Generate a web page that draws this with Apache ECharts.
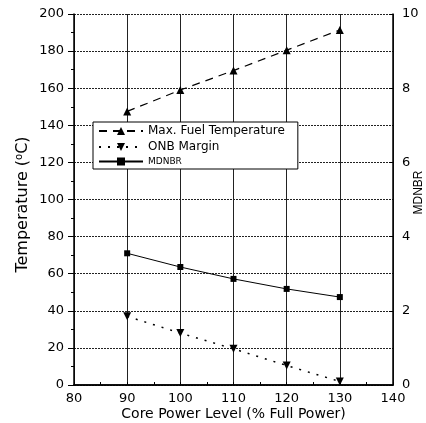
<!DOCTYPE html>
<html>
<head>
<meta charset="utf-8">
<script src="https://cdn.jsdelivr.net/npm/echarts@6/dist/echarts.min.js"></script>
<style>
  html, body { margin: 0; padding: 0; background: #fff; }
  #main { width: 426px; height: 423px; }
</style>
</head>
<body>
<div id="main"></div>
<script>
// data
var powerLevels = [90, 100, 110, 120, 130];
var fuelTemp = [147.5, 159, 169.5, 180.5, 191.4];
var onbMargin = [37, 28, 19.5, 10.5, 1.9];
var mdnbr = [3.55, 3.18, 2.86, 2.59, 2.37];

function pairs(ys) {
  return powerLevels.map(function (x, i) { return [x, ys[i]]; });
}

var font = "DejaVu Sans";
var chart = echarts.init(document.getElementById("main"));

var option = {
  backgroundColor: "#fff",
  animation: false,
  textStyle: { fontFamily: font, color: "#000" },
  grid: { left: 74, right: 33, top: 14, bottom: 38, outerBoundsMode: "none" },
  legend: {
    orient: "vertical",
    left: 93,
    top: 122,
    padding: [3, 13, 3, 5],
    itemGap: 4,
    itemWidth: 44,
    itemHeight: 10,
    backgroundColor: "#fff",
    borderColor: "#000",
    borderWidth: 1,
    textStyle: { fontFamily: font, fontSize: 12, color: "#000" },
    data: [
      { name: "Max. Fuel Temperature" },
      { name: "ONB Margin" },
      { name: "MDNBR", textStyle: { fontSize: 9 } }
    ]
  },
  xAxis: [
    {
      type: "value",
      min: 80,
      max: 140,
      interval: 10,
      name: "Core Power Level (% Full Power)",
      nameLocation: "middle",
      nameMoveOverlap: false,
      nameGap: 22,
      nameTextStyle: { fontFamily: font, fontSize: 14, color: "#000" },
      axisLine: { show: true, lineStyle: { color: "#000", width: 1.5 } },
      axisTick: { show: true, inside: true, length: 3, lineStyle: { color: "#000" } },
      minorTick: { show: true, splitNumber: 2, length: 3, lineStyle: { color: "#000" } },
      axisLabel: { fontFamily: font, fontSize: 13, color: "#000", margin: 7 },
      splitLine: { show: true, lineStyle: { color: "#222", width: 1 } }
    },
    {
      type: "value",
      position: "top",
      min: 80,
      max: 140,
      axisLine: { show: true, lineStyle: { color: "#000", width: 1.5 } },
      axisTick: { show: false },
      axisLabel: { show: false },
      splitLine: { show: false }
    }
  ],
  yAxis: [
    {
      type: "value",
      min: 0,
      max: 200,
      interval: 20,
      name: "Temperature ({sup|o}C)",
      nameLocation: "middle",
      nameMoveOverlap: false,
      nameGap: 42,
      nameTextStyle: {
        fontFamily: font,
        fontSize: 16,
        color: "#000",
        padding: [0, 10, 0, 0],
        rich: { sup: { fontFamily: font, fontSize: 10, verticalAlign: "top", padding: [0, 0, 8, 0] } }
      },
      axisLine: { show: true, lineStyle: { color: "#000", width: 1.5 } },
      axisTick: { show: true, length: 6, lineStyle: { color: "#000" } },
      minorTick: { show: true, splitNumber: 2, length: 3, lineStyle: { color: "#000" } },
      axisLabel: { fontFamily: font, fontSize: 13, color: "#000", margin: 10 },
      splitLine: { show: true, lineStyle: { color: "#222", width: 1, type: [2, 1] } }
    },
    {
      type: "value",
      position: "right",
      min: 0,
      max: 10,
      interval: 2,
      name: "MDNBR",
      nameLocation: "middle",
      nameMoveOverlap: false,
      nameRotate: 90,
      nameGap: 20,
      nameTextStyle: { fontFamily: "Liberation Sans", fontSize: 12, color: "#000", padding: [0, 0, 0, 14] },
      axisLine: { show: true, lineStyle: { color: "#000", width: 1.5 } },
      axisTick: { show: true, inside: true, length: 4, lineStyle: { color: "#000" } },
      axisLabel: { fontFamily: font, fontSize: 13, color: "#000", margin: 9 },
      splitLine: { show: false }
    }
  ],
  series: [
    {
      name: "Max. Fuel Temperature",
      type: "line",
      yAxisIndex: 0,
      data: pairs(fuelTemp),
      symbol: "triangle",
      symbolSize: 8,
      itemStyle: { color: "#000" },
      lineStyle: { color: "#000", width: 1.2, type: [8, 6] }
    },
    {
      name: "ONB Margin",
      type: "line",
      yAxisIndex: 0,
      data: pairs(onbMargin),
      symbol: "triangle",
      symbolRotate: 180,
      symbolSize: 8,
      itemStyle: { color: "#000" },
      lineStyle: { color: "#000", width: 1.5, type: [2, 7] }
    },
    {
      name: "MDNBR",
      type: "line",
      yAxisIndex: 1,
      data: pairs(mdnbr),
      symbol: "rect",
      symbolSize: 6,
      itemStyle: { color: "#000" },
      lineStyle: { color: "#000", width: 1 }
    }
  ]
};

option && chart.setOption(option);
</script>
</body>
</html>
